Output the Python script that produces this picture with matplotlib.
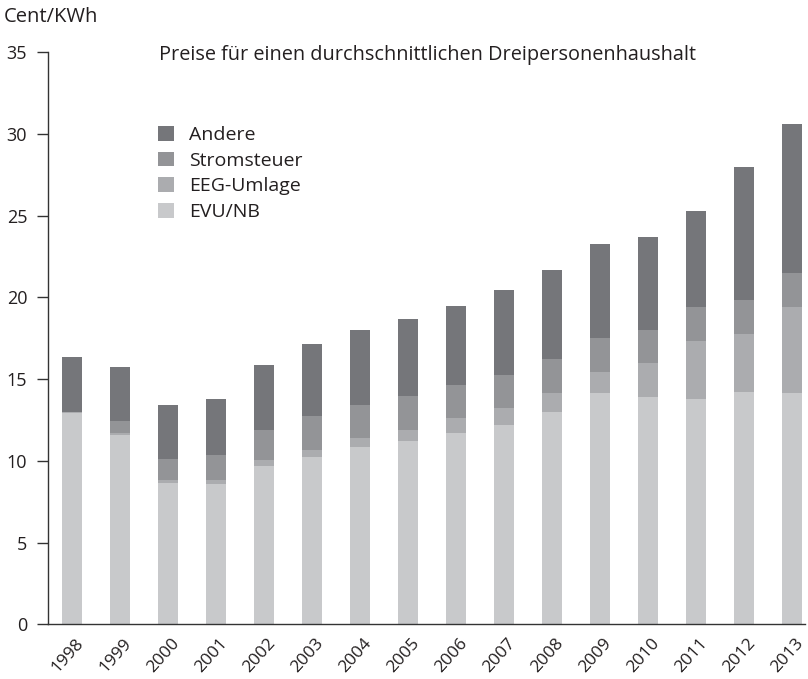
import matplotlib
matplotlib.use("Agg")
import matplotlib.pyplot as plt
import matplotlib.transforms as mtransforms
from matplotlib.patches import Patch
import numpy as np

plt.rcParams['font.family'] = ['Open Sans', 'DejaVu Sans']

# Strompreis-Bestandteile in Cent/KWh
jahre = ['1998', '1999', '2000', '2001', '2002', '2003', '2004', '2005',
         '2006', '2007', '2008', '2009', '2010', '2011', '2012', '2013']
evu_nb = [12.90, 11.56, 8.64, 8.60, 9.70, 10.23, 10.84, 11.21,
          11.72, 12.19, 13.00, 14.16, 13.91, 13.79, 14.21, 14.16]
eeg = [0.08, 0.12, 0.17, 0.21, 0.35, 0.43, 0.54, 0.69,
       0.88, 1.04, 1.16, 1.28, 2.09, 3.56, 3.55, 5.25]
stromsteuer = [0.00, 0.77, 1.30, 1.54, 1.82, 2.08, 2.03, 2.06,
               2.04, 2.02, 2.07, 2.07, 2.00, 2.06, 2.08, 2.09]
andere = [3.35, 3.31, 3.30, 3.43, 3.97, 4.42, 4.57, 4.69,
          4.83, 5.22, 5.41, 5.72, 5.69, 5.84, 8.11, 9.07]

namen = ['EVU/NB', 'EEG-Umlage', 'Stromsteuer', 'Andere']
farben = ['#c8c9cb', '#abacaf', '#939497', '#75767a']
textfarbe = '#231f20'

fig = plt.figure(figsize=(8.08, 6.79), dpi=100)
ax = fig.add_axes([48 / 808, 1 - 624.3 / 679, (805 - 48) / 808, (624.3 - 52) / 679])

x = np.arange(len(jahre))
unten = np.zeros(len(jahre))
for werte, farbe in zip([evu_nb, eeg, stromsteuer, andere], farben):
    ax.bar(x, werte, width=0.4, bottom=unten, color=farbe, edgecolor='none')
    unten += np.array(werte)

ax.set_ylim(0, 35)
ax.set_xlim(-0.5, 15.27)
ax.set_yticks(range(0, 36, 5))
ax.tick_params(axis='y', direction='out', length=8, width=1, pad=7,
               labelsize=13, colors='#333333', labelcolor=textfarbe)
ax.set_xticks(x)
ax.set_xticklabels(jahre)
ax.tick_params(axis='x', length=0, pad=12, labelsize=12.5, labelcolor=textfarbe)
versatz = mtransforms.ScaledTranslation(0.09, 0, fig.dpi_scale_trans)
for lab in ax.get_xticklabels():
    lab.set_rotation(48)
    lab.set_ha('right')
    lab.set_va('center')
    lab.set_rotation_mode('anchor')
    lab.set_transform(lab.get_transform() + versatz)

for s in ['top', 'right']:
    ax.spines[s].set_visible(False)
for s in ['left', 'bottom']:
    ax.spines[s].set_color('#333333')
    ax.spines[s].set_linewidth(1)

fig.text(4 / 808, 1 - 22 / 679, 'Cent/KWh', fontsize=14.5, color=textfarbe,
         va='baseline', ha='left')
fig.text(159 / 808, 1 - 60 / 679,
         'Preise für einen durchschnittlichen Dreipersonenhaushalt',
         fontsize=14.3, color=textfarbe, va='baseline', ha='left')

handles = [Patch(facecolor=f, edgecolor='none') for f in farben][::-1]
ax.legend(handles, namen[::-1], loc='upper left',
          bbox_to_anchor=(158 / 808, 1 - 126 / 679),
          bbox_transform=fig.transFigure, frameon=False, fontsize=14,
          handlelength=0.8, handleheight=0.8, handletextpad=0.8,
          labelspacing=0.38, borderpad=0, borderaxespad=0,
          labelcolor=textfarbe)

fig.savefig('out.png', dpi=100)
